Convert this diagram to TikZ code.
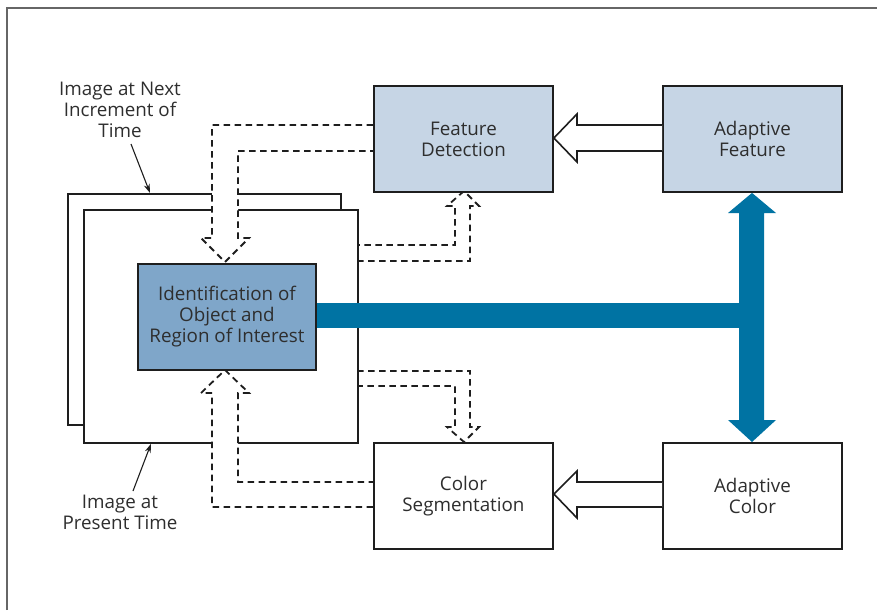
\documentclass[tikz,border=0pt]{standalone}
\usepackage{fontspec}
\setmainfont{Open Sans}
\usetikzlibrary{arrows.meta,calc}
\definecolor{lightbox}{HTML}{C6D5E5}
\definecolor{idfill}{HTML}{7FA6C9}
\definecolor{bluebar}{HTML}{0073A3}
\definecolor{txt}{HTML}{2E2E2E}
\definecolor{edge}{HTML}{1E1E1E}
\begin{document}
\begin{tikzpicture}[x=1pt,y=-1pt,
  lbl/.style={font=\fontsize{18.8}{21}\selectfont, text=txt, align=center, inner sep=0pt},
  box/.style={lbl, draw=edge, line width=1.9pt, minimum width=179pt, minimum height=106pt, anchor=north west},
  imgframe/.style={draw=edge, line width=1.8pt, fill=white, anchor=north west, inner sep=0pt},
  dashedarrow/.style={draw=edge, line width=1.8pt, dash pattern=on 6.5pt off 4.5pt},
  hollowarrow/.style={draw=edge, line width=1.6pt, fill=white},
  note/.style={draw=edge, line width=1.1pt, -{Stealth[length=9pt,width=6pt]}}]
\useasboundingbox (0,0) rectangle (877,610);
% outer frame
\draw[gray!80!black, line width=2pt] (7,610) -- (7,8) -- (877,8);
% image frames
\node[imgframe, minimum width=273pt, minimum height=231pt] (back) at (67,193) {};
\node[imgframe, minimum width=274pt, minimum height=233pt] (front) at (83,209) {};
% dashed hollow arrow: Feature Detection -> Identification
\fill[white] (373,125) -- (212,125) -- (212,238) -- (201,238) -- (225,262) -- (249,238) -- (238,238) -- (238,151) -- (373,151) -- cycle;
\draw[dashedarrow] (373,125) -- (212,125) -- (212,238) -- (201,238) -- (225,262) -- (249,238) -- (238,238) -- (238,151) -- (373,151);
% dashed hollow arrow: Color Segmentation -> Identification
\fill[white] (373,507) -- (212,507) -- (212,393) -- (201,393) -- (225,370) -- (249,393) -- (238,393) -- (238,482) -- (373,482) -- cycle;
\draw[dashedarrow] (373,507) -- (212,507) -- (212,393) -- (201,393) -- (225,370) -- (249,393) -- (238,393) -- (238,482) -- (373,482);
% dashed hollow arrow: image -> Feature Detection
\draw[dashedarrow] (357,261) -- (470,261) -- (470,206) -- (479,206) -- (464,191) -- (447,206) -- (455,206) -- (455,245) -- (357,245);
% dashed hollow arrow: image -> Color Segmentation
\draw[dashedarrow] (357,371) -- (470,371) -- (470,427) -- (479,427) -- (464,442) -- (447,427) -- (455,427) -- (455,386) -- (357,386);
% boxes
\node[box, fill=idfill, minimum width=178pt] (id) at (137,263) {Identification of\\Object and\\Region of Interest};
\node[box, fill=lightbox] (fd) at (373,85) {Feature\\Detection};
\node[box, fill=lightbox] (af) at (662,85) {Adaptive\\Feature};
\node[box, fill=white] (cs) at (373,442) {Color\\Segmentation};
\node[box, fill=white] (ac) at (662,442) {Adaptive\\Color};
% hollow solid arrows
\draw[hollowarrow] (af.west |- 0,125) -- (577,125) -- (577,114) -- (fd.east |- 0,138) -- (577,162) -- (577,151) -- (af.west |- 0,151);
\draw[hollowarrow] (ac.west |- 0,482) -- (577,482) -- (577,471) -- (cs.east |- 0,494) -- (577,518) -- (577,507) -- (ac.west |- 0,507);
% blue bars
\fill[bluebar] (id.east |- 0,303) rectangle (752,328);
\fill[bluebar] (739,213) -- (728,213) -- (af.south -| 752,0) -- (776,213) -- (764,213) -- (764,420) -- (776,420) -- (ac.north -| 752,0) -- (728,420) -- (739,420) -- cycle;
% labels
\node[lbl] (lnext) at (120,110) {Image at Next\\Increment of\\Time};
\node[lbl] (lpres) at (120,512) {Image at\\Present Time};
\coordinate (nextstart) at (131,144);
\coordinate (presstart) at (133,491);
\draw[note] (nextstart) -- (back.north -| 150,0);
\draw[note] (presstart) -- (front.south -| 151,0);
\end{tikzpicture}
\end{document}
